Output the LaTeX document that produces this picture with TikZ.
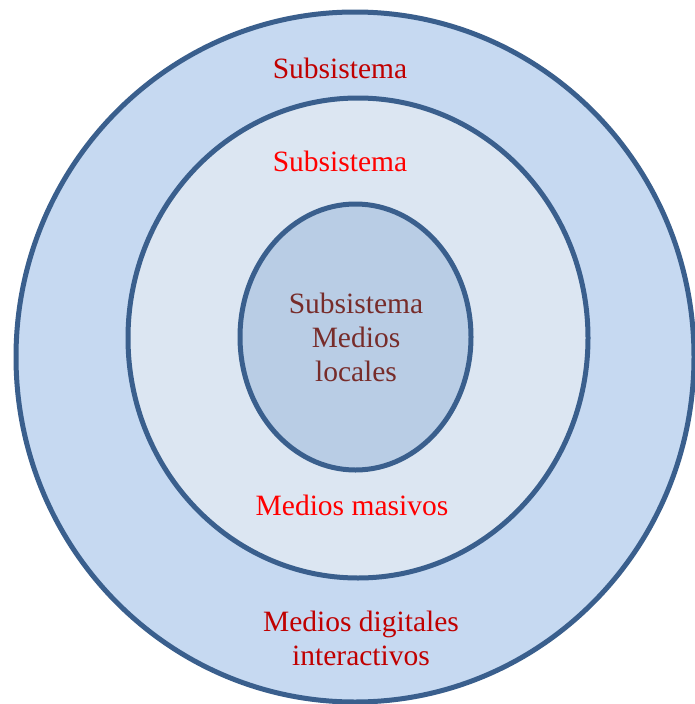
\documentclass[tikz,border=0pt]{standalone}
\usepackage{fontspec}
\setmainfont{Liberation Serif}
\definecolor{ringline}{HTML}{3A5F8D}
\definecolor{outerfill}{HTML}{C6D9F1}
\definecolor{midfill}{HTML}{DCE6F2}
\definecolor{innerfill}{HTML}{B9CDE5}
\definecolor{darkred}{HTML}{C00000}
\definecolor{brightred}{HTML}{FF0000}
\definecolor{brownred}{HTML}{772C2A}
\tikzset{
  ring/.style={draw=ringline, line width=5pt},
  lbl/.style={font=\fontsize{29.5}{34}\selectfont, align=center, inner sep=0pt},
}
\begin{document}
\begin{tikzpicture}[x=1pt,y=-1pt]
\useasboundingbox (0,0) rectangle (694,704);
\fill[white] (0,0) rectangle (694,704);
\draw[ring, fill=outerfill] (355,357) ellipse [x radius=339, y radius=345];
\draw[ring, fill=midfill] (358,338) ellipse [x radius=230, y radius=240];
\draw[ring, fill=innerfill] (355.5,337) ellipse [x radius=115.5, y radius=133];
\node[lbl, text=darkred] (t1) at (340,68) {Subsistema};
\node[lbl, text=brightred] (t2) at (340,161) {Subsistema};
\node[lbl, text=brownred] (t3) at (356,337) {Subsistema\\Medios\\locales};
\node[lbl, text=brightred] (t4) at (352,505) {Medios masivos};
\node[lbl, text=darkred] (t5) at (361,638) {Medios digitales\\interactivos};
\end{tikzpicture}
\end{document}
